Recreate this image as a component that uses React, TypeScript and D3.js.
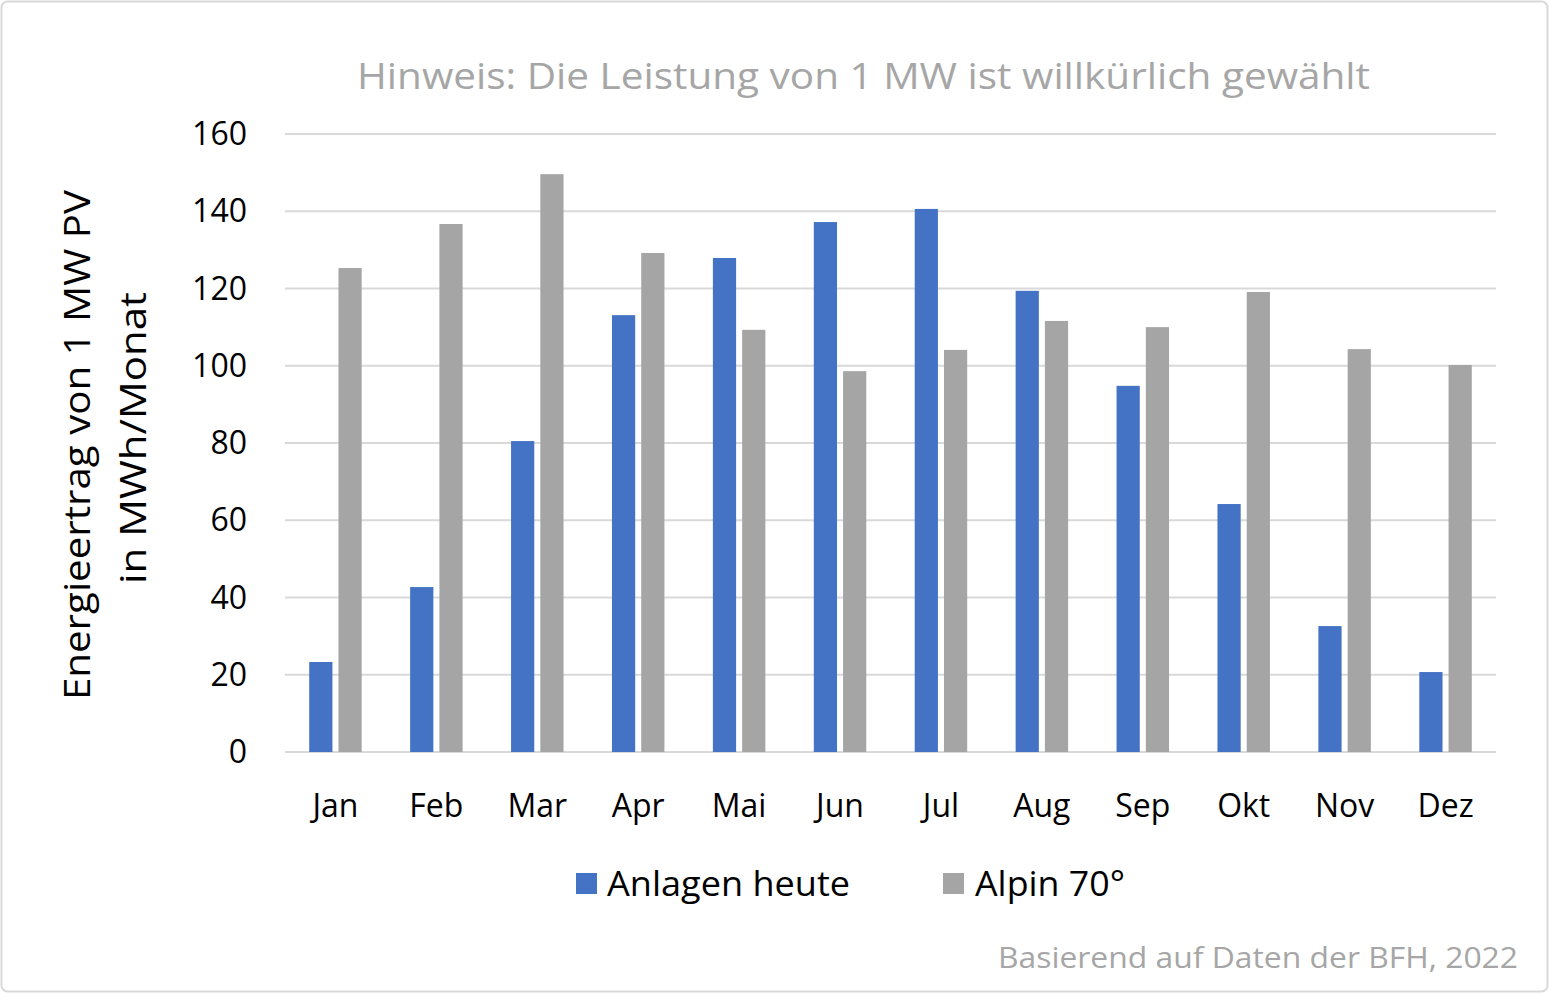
import React from 'react';
import * as d3 from 'd3';

const months = ['Jan', 'Feb', 'Mar', 'Apr', 'Mai', 'Jun', 'Jul', 'Aug', 'Sep', 'Okt', 'Nov', 'Dez'];
const anlagenHeute = [23.3, 42.7, 80.5, 113.1, 127.9, 137.2, 140.6, 119.4, 94.8, 64.2, 32.6, 20.7];
const alpin70 = [125.3, 136.7, 149.6, 129.2, 109.3, 98.6, 104.1, 111.6, 110, 119.1, 104.3, 100.2];
const yTicks = [0, 20, 40, 60, 80, 100, 120, 140, 160];

const W = 1549, H = 993;
const FONT = '"Open Sans", "Liberation Sans", sans-serif';

export default function App() {
  const x = d3.scaleBand<string>().domain(months).range([285, 1496]).padding(0);
  const y = d3.scaleLinear().domain([0, 160]).range([752, 134]);
  const step = x.step();
  const bw = step * 0.23;
  const gap = step * 0.06;
  const off = (step - (2 * bw + gap)) / 2;

  return (
    <svg width={W} height={H} style={{ position: 'absolute', left: 0, top: 0, fontFamily: FONT }}>
      <rect x={1.5} y={1.5} width={W - 3} height={H - 3} rx={6} fill="#fff" stroke="#d9d9d9" strokeWidth={2} />
      <text x={357} y={76} dy="0.35em" fontSize={36} fill="#a6a6a6" textLength={1013} lengthAdjust="spacingAndGlyphs">Hinweis: Die Leistung von 1 MW ist willkürlich gewählt</text>
      {yTicks.map(t => (
        <g key={t}>
          <line x1={285} x2={1496} y1={y(t)} y2={y(t)} stroke="#d9d9d9" strokeWidth={2} />
          <text x={247} y={y(t)} dy="0.35em" textAnchor="end" fontSize={32} fill="#000">{t}</text>
        </g>
      ))}
      {months.map((m, i) => (
        <g key={m}>
          <rect x={x(m)! + off} y={y(anlagenHeute[i])} width={bw} height={y(0) - y(anlagenHeute[i])} fill="#4472c4" />
          <rect x={x(m)! + off + bw + gap} y={y(alpin70[i])} width={bw} height={y(0) - y(alpin70[i])} fill="#a5a5a5" />
          <text x={x(m)! + step / 2} y={806} dy="0.35em" textAnchor="middle" fontSize={32}>{m}</text>
        </g>
      ))}
      <text transform="translate(90,700) rotate(-90)" fontSize={36}>
        <tspan x={0} y={0} textLength={510} lengthAdjust="spacingAndGlyphs">Energieertrag von 1 MW PV</tspan>
      </text>
      <text transform="translate(146,584) rotate(-90)" fontSize={36}>
        <tspan x={0} y={0} textLength={292} lengthAdjust="spacingAndGlyphs">in MWh/Monat</tspan>
      </text>
      <rect x={576} y={873} width={21} height={21} fill="#4472c4" />
      <text x={607} y={884} dy="0.35em" fontSize={35} textLength={243} lengthAdjust="spacingAndGlyphs">Anlagen heute</text>
      <rect x={943} y={873} width={21} height={21} fill="#a5a5a5" />
      <text x={975} y={884} dy="0.35em" fontSize={35} textLength={150} lengthAdjust="spacingAndGlyphs">Alpin 70°</text>
      <text x={998} y={957} dy="0.35em" fontSize={30} fill="#a6a6a6" textLength={520} lengthAdjust="spacingAndGlyphs">Basierend auf Daten der BFH, 2022</text>
    </svg>
  );
}
